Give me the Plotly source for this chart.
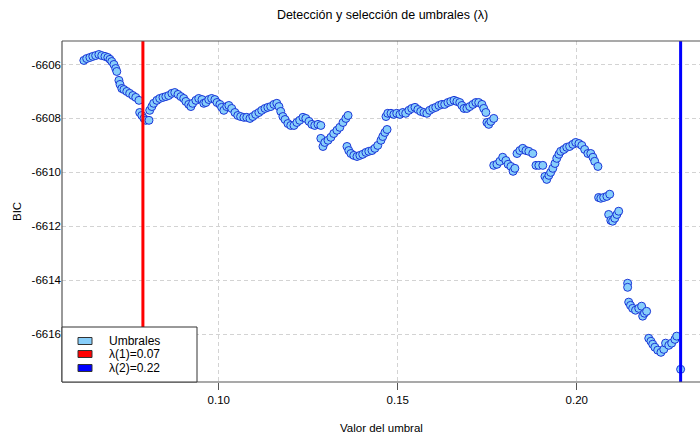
import plotly.graph_objects as go

# ---- data ----
umbral = [
    0.0623, 0.0631, 0.0640, 0.0648, 0.0656, 0.0665, 0.0673, 0.0682, 0.0690, 0.0696,
    0.0701, 0.0707, 0.0712, 0.0715, 0.0721, 0.0724, 0.0729, 0.0735, 0.0743, 0.0751,
    0.0760, 0.0768, 0.0777, 0.0779, 0.0785, 0.0791, 0.0796, 0.0805, 0.0807, 0.0813,
    0.0818, 0.0827, 0.0835, 0.0844, 0.0852, 0.0860, 0.0869, 0.0877, 0.0886, 0.0894,
    0.0902, 0.0908, 0.0916, 0.0922, 0.0927, 0.0936, 0.0944, 0.0953, 0.0958, 0.0964,
    0.0972, 0.0980, 0.0989, 0.0995, 0.1003, 0.1008, 0.1014, 0.1022, 0.1028, 0.1036,
    0.1045, 0.1053, 0.1061, 0.1070, 0.1078, 0.1087, 0.1095, 0.1103, 0.1112, 0.1120,
    0.1129, 0.1137, 0.1145, 0.1154, 0.1162, 0.1168, 0.1173, 0.1179, 0.1185, 0.1193,
    0.1201, 0.1210, 0.1218, 0.1226, 0.1235, 0.1243, 0.1252, 0.1260, 0.1268, 0.1277,
    0.1285, 0.1285, 0.1291, 0.1296, 0.1305, 0.1313, 0.1321, 0.1330, 0.1338, 0.1347,
    0.1355, 0.1361, 0.1358, 0.1363, 0.1369, 0.1377, 0.1386, 0.1394, 0.1402, 0.1411,
    0.1419, 0.1428, 0.1436, 0.1444, 0.1453, 0.1458, 0.1464, 0.1470, 0.1467, 0.1472,
    0.1481, 0.1489, 0.1497, 0.1506, 0.1514, 0.1522, 0.1531, 0.1539, 0.1548, 0.1556,
    0.1564, 0.1573, 0.1581, 0.1589, 0.1598, 0.1606, 0.1615, 0.1623, 0.1631, 0.1640,
    0.1648, 0.1657, 0.1665, 0.1673, 0.1679, 0.1685, 0.1693, 0.1701, 0.1710, 0.1718,
    0.1726, 0.1735, 0.1740, 0.1746, 0.1749, 0.1754, 0.1760, 0.1768, 0.1768, 0.1777,
    0.1785, 0.1793, 0.1802, 0.1808, 0.1816, 0.1822, 0.1827, 0.1833, 0.1841, 0.1849,
    0.1858, 0.1866, 0.1877, 0.1886, 0.1894, 0.1905, 0.1911, 0.1916, 0.1922, 0.1927,
    0.1933, 0.1939, 0.1944, 0.1950, 0.1955, 0.1964, 0.1972, 0.1980, 0.1989, 0.1997,
    0.2006, 0.2014, 0.2022, 0.2031, 0.2039, 0.2045, 0.2050, 0.2059, 0.2061, 0.2067,
    0.2075, 0.2084, 0.2092, 0.2089, 0.2095, 0.2100, 0.2106, 0.2112, 0.2117, 0.2142,
    0.2142, 0.2145, 0.2150, 0.2156, 0.2164, 0.2173, 0.2181, 0.2184, 0.2189, 0.2195,
    0.2201, 0.2207, 0.2212, 0.2218, 0.2226, 0.2235, 0.2243, 0.2248, 0.2257, 0.2265,
    0.2274, 0.2279, 0.2290,
]
bic = [
    -6605.85, -6605.78, -6605.74, -6605.70, -6605.67, -6605.63, -6605.67, -6605.70, -6605.74, -6605.81,
    -6605.89, -6606.00, -6606.15, -6606.26, -6606.59, -6606.74, -6606.89, -6606.93, -6607.00, -6607.07,
    -6607.15, -6607.22, -6607.33, -6607.78, -6607.89, -6608.00, -6608.07, -6608.07, -6607.70, -6607.56,
    -6607.44, -6607.33, -6607.26, -6607.22, -6607.19, -6607.15, -6607.07, -6607.04, -6607.11, -6607.19,
    -6607.26, -6607.37, -6607.48, -6607.56, -6607.44, -6607.33, -6607.26, -6607.30, -6607.44, -6607.41,
    -6607.30, -6607.26, -6607.30, -6607.41, -6607.48, -6607.59, -6607.70, -6607.56, -6607.52, -6607.63,
    -6607.78, -6607.89, -6607.93, -6607.96, -6607.96, -6608.00, -6607.93, -6607.85, -6607.78, -6607.70,
    -6607.63, -6607.59, -6607.56, -6607.48, -6607.44, -6607.56, -6607.74, -6607.93, -6608.04, -6608.19,
    -6608.26, -6608.26, -6608.15, -6608.07, -6607.96, -6608.00, -6608.11, -6608.22, -6608.26, -6608.22,
    -6608.26, -6608.74, -6609.04, -6608.89, -6608.81, -6608.70, -6608.56, -6608.44, -6608.33, -6608.15,
    -6608.00, -6607.89, -6609.04, -6609.19, -6609.30, -6609.37, -6609.41, -6609.37, -6609.33, -6609.26,
    -6609.22, -6609.19, -6609.11, -6609.00, -6608.81, -6608.67, -6608.52, -6608.41, -6607.93, -6607.81,
    -6607.81, -6607.85, -6607.81, -6607.85, -6607.78, -6607.81, -6607.70, -6607.63, -6607.59, -6607.67,
    -6607.74, -6607.78, -6607.81, -6607.70, -6607.63, -6607.59, -6607.52, -6607.48, -6607.48, -6607.41,
    -6607.37, -6607.33, -6607.37, -6607.41, -6607.52, -6607.63, -6607.63, -6607.56, -6607.48, -6607.41,
    -6607.41, -6607.48, -6607.63, -6607.78, -6608.15, -6608.22, -6608.11, -6608.00, -6609.74, -6609.70,
    -6609.59, -6609.44, -6609.56, -6609.70, -6609.78, -6609.96, -6609.85, -6609.30, -6609.19, -6609.11,
    -6609.19, -6609.22, -6609.30, -6609.74, -6609.74, -6609.74, -6610.15, -6610.26, -6610.11, -6610.00,
    -6609.85, -6609.67, -6609.48, -6609.33, -6609.22, -6609.15, -6609.07, -6609.04, -6608.96, -6608.89,
    -6608.93, -6609.00, -6609.15, -6609.30, -6609.30, -6609.44, -6609.59, -6609.78, -6610.93, -6610.96,
    -6610.93, -6610.89, -6610.81, -6611.56, -6611.78, -6611.81, -6611.70, -6611.56, -6611.44, -6614.11,
    -6614.26, -6614.81, -6614.93, -6615.04, -6615.11, -6615.04, -6614.96, -6615.33, -6615.22, -6615.15,
    -6616.15, -6616.26, -6616.37, -6616.48, -6616.59, -6616.67, -6616.56, -6616.33, -6616.41, -6616.33,
    -6616.19, -6616.07, -6617.30,
]
lambda1 = 0.0788
lambda2 = 0.2290
legend_labels = ["Umbrales", "λ(1)=0.07", "λ(2)=0.22"]
legend_colors = ["#87CEFA", "red", "blue"]
x_ticks = [0.10, 0.15, 0.20]
y_ticks = [-6606, -6608, -6610, -6612, -6614, -6616]

# ---- layout geometry (pixels) ----
W, H = 700, 435
L, R, T, B = 62, 0, 41, 53
PW, PH = W - L - R, H - T - B

def px(xp):
    return (xp - L) / PW

def py(yp):
    return (H - B - yp) / PH

FONT = "Liberation Sans, Arial, sans-serif"

fig = go.Figure()
fig.add_trace(go.Scatter(
    x=umbral, y=bic, mode="markers",
    marker=dict(size=8, color="#87CEFA", line=dict(color="#1a35d8", width=1)),
    showlegend=False, hoverinfo="x+y",
))

shapes = []
# vertical selection lines
shapes.append(dict(type="line", xref="x", yref="paper", x0=lambda1, x1=lambda1, y0=0, y1=1,
                   line=dict(color="red", width=3), layer="above"))
shapes.append(dict(type="line", xref="x", yref="paper", x0=lambda2, x1=lambda2, y0=0, y1=1,
                   line=dict(color="blue", width=3), layer="above"))
# box (left, top, bottom)
box_col = "#555555"
shapes.append(dict(type="line", xref="paper", yref="paper", x0=0, x1=0, y0=0, y1=1,
                   line=dict(color=box_col, width=1.2), layer="above"))
shapes.append(dict(type="line", xref="paper", yref="paper", x0=0, x1=1, y0=1, y1=1,
                   line=dict(color=box_col, width=1.2), layer="above"))
shapes.append(dict(type="line", xref="paper", yref="paper", x0=0, x1=1, y0=0, y1=0,
                   line=dict(color=box_col, width=1.2), layer="above"))
# legend box
shapes.append(dict(type="rect", xref="paper", yref="paper", x0=px(62), x1=px(197), y0=py(382), y1=py(327),
                   fillcolor="white", line=dict(color="#333333", width=1), layer="above"))
annotations = []
rows_y = [341, 354, 368]
for lab, col, yc in zip(legend_labels, legend_colors, rows_y):
    shapes.append(dict(type="rect", xref="paper", yref="paper", x0=px(78), x1=px(92),
                       y0=py(yc + 3.5), y1=py(yc - 3.5), fillcolor=col,
                       line=dict(color="#333333", width=1), layer="above"))
    annotations.append(dict(xref="paper", yref="paper", x=px(107), y=py(yc), text=lab,
                            showarrow=False, xanchor="left", yanchor="middle",
                            font=dict(family=FONT, size=12, color="black")))

# axis titles
annotations.append(dict(xref="paper", yref="paper", x=px(382), y=py(428), text="Valor del umbral",
                        showarrow=False, xanchor="center", yanchor="middle",
                        font=dict(family=FONT, size=11.5, color="black")))
annotations.append(dict(xref="paper", yref="paper", x=px(17), y=py(212), text="BIC", textangle=-90,
                        showarrow=False, xanchor="center", yanchor="middle",
                        font=dict(family=FONT, size=11.5, color="black")))

fig.update_layout(
    width=W, height=H,
    margin=dict(l=L, r=R, t=T, b=B),
    paper_bgcolor="white", plot_bgcolor="white",
    title=dict(text="Detección y selección de umbrales (λ)", x=px(382.5), xref="paper",
               y=1 - 15 / H, yref="container", xanchor="center", yanchor="middle",
               font=dict(family=FONT, size=12.5, color="black")),
    shapes=shapes, annotations=annotations,
    showlegend=False,
)
fig.update_xaxes(
    range=[0.0562, 0.0562 + PW / 3580.0], tickvals=x_ticks, ticktext=["0.10", "0.15", "0.20"],
    showgrid=True, gridcolor="#D3D3D3", griddash="4px,3px", gridwidth=1,
    ticks="outside", ticklen=7, tickcolor="#555555", showline=False, zeroline=False,
    tickfont=dict(family=FONT, size=11.5, color="black"),
)
fig.update_yaxes(
    range=[-6617.77, -6605.13], tickvals=y_ticks, ticktext=[str(v) for v in y_ticks],
    showgrid=True, gridcolor="#D3D3D3", griddash="4px,3px", gridwidth=1,
    ticks="", showline=False, zeroline=False,
    tickfont=dict(family=FONT, size=11.5, color="black"),
)

fig.write_html("out.html", config={"displayModeBar": False},
               post_script="document.body.style.margin='0';document.body.style.overflow='hidden';")
